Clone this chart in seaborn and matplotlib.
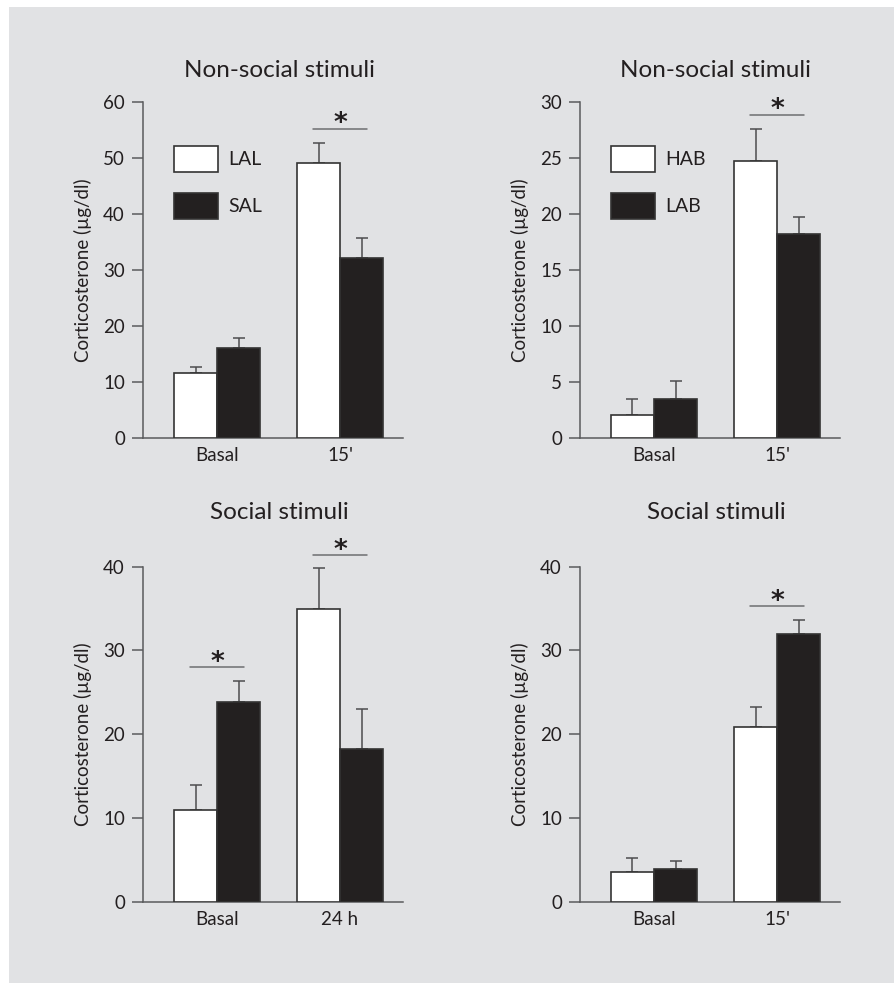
import matplotlib
matplotlib.use("Agg")
import matplotlib.pyplot as plt
import matplotlib.patches as mpatches
import pandas as pd
import seaborn as sns

# data (mean, upward SEM)
times_top = ["Basal", "15'"]
times_bl = ["Basal", "24 h"]
times_br = ["Basal", "15'"]

lal_ns = [11.5, 49.1]
lal_ns_err = [1.1, 3.6]
sal_ns = [16.0, 32.2]
sal_ns_err = [1.8, 3.5]

hab_ns = [2.05, 24.75]
hab_ns_err = [1.45, 2.85]
lab_ns = [3.5, 18.2]
lab_ns_err = [1.6, 1.55]

lal_s = [10.9, 34.9]
lal_s_err = [3.0, 4.9]
sal_s = [23.9, 18.2]
sal_s_err = [2.4, 4.8]

hab_s = [3.6, 20.9]
hab_s_err = [1.6, 2.4]
lab_s = [3.9, 32.0]
lab_s_err = [1.0, 1.6]

panels = [
    dict(title="Non-social stimuli", times=times_top, groups=["LAL", "SAL"],
         vals=[lal_ns, sal_ns], errs=[lal_ns_err, sal_ns_err],
         ymax=60, step=10, sig=[(1, 55.3)], legend=True, pad=18),
    dict(title="Non-social stimuli", times=times_top, groups=["HAB", "LAB"],
         vals=[hab_ns, lab_ns], errs=[hab_ns_err, lab_ns_err],
         ymax=30, step=5, sig=[(1, 28.9)], legend=True, pad=18),
    dict(title="Social stimuli", times=times_bl, groups=["LAL", "SAL"],
         vals=[lal_s, sal_s], errs=[lal_s_err, sal_s_err],
         ymax=40, step=10, sig=[(0, 28.0), (1, 41.4)], legend=False, pad=34),
    dict(title="Social stimuli", times=times_br, groups=["HAB", "LAB"],
         vals=[hab_s, lab_s], errs=[hab_s_err, lab_s_err],
         ymax=40, step=10, sig=[(1, 35.3)], legend=False, pad=34),
]

sns.set_style("white")
plt.rcParams['font.family'] = ['Lato', 'DejaVu Sans']

axis_col = "#5a5b5d"
text_col = "#231f20"
bar_dark = "#231f20"

fig = plt.figure(figsize=(8.94, 9.83), dpi=100, facecolor="white")
# grey panel behind the figure
fig.patches.append(mpatches.Rectangle((9 / 894, 0), 1, 1 - 7 / 983, transform=fig.transFigure,
                                      facecolor="#e1e2e4", edgecolor="none", zorder=-10))

positions = [
    [0.16, 0.5547, 0.2908, 0.3412],
    [0.6488, 0.5547, 0.2908, 0.3412],
    [0.16, 0.0827, 0.2908, 0.3408],
    [0.6488, 0.0827, 0.2908, 0.3408],
]

for p, pos in zip(panels, positions):
    ax = fig.add_axes(pos)
    ax.set_facecolor("none")
    df = pd.DataFrame({
        "time": p["times"] * 2,
        "group": [p["groups"][0]] * 2 + [p["groups"][1]] * 2,
        "value": p["vals"][0] + p["vals"][1],
        "err": p["errs"][0] + p["errs"][1],
    })
    sns.barplot(data=df, x="time", y="value", hue="group", order=p["times"],
                hue_order=p["groups"], palette=["white", bar_dark], width=0.7,
                errorbar=None, edgecolor="#333333", linewidth=1.2, ax=ax,
                legend=p["legend"], zorder=3)

    # upward-only error bars at the bar centres
    for bars, g in zip(ax.containers, p["groups"]):
        sub = df[df["group"] == g].set_index("time").loc[p["times"]]
        xs = [b.get_x() + b.get_width() / 2 for b in bars]
        ax.errorbar(xs, sub["value"], yerr=[[0] * len(xs), sub["err"]], fmt="none",
                    ecolor="#4d4d4f", elinewidth=1.1, capsize=4, capthick=1.1, zorder=2)

    # significance markers
    for xc, yv in p["sig"]:
        ax.plot([xc - 0.22, xc + 0.22], [yv, yv], color="#6d6e70", lw=1.1, clip_on=False)
        ax.annotate("*", (xc, yv), xytext=(0, 3), textcoords="offset points",
                    ha="center", va="center", fontsize=19, fontweight="bold",
                    color=text_col, family=["DejaVu Sans"], annotation_clip=False)

    ax.set_xlim(-0.6016, 1.512)
    ax.set_ylim(0, p["ymax"])
    ax.set_yticks(range(0, p["ymax"] + 1, p["step"]))
    ax.set_xlabel("")
    ax.set_ylabel("Corticosterone (µg/dl)", fontsize=13.5, color=text_col)
    ax.yaxis.set_label_coords(-0.195, 0.5)
    ax.set_title(p["title"], fontsize=17.5, color=text_col, x=0.523, pad=p["pad"])

    sns.despine(ax=ax)
    for s in ["left", "bottom"]:
        ax.spines[s].set_color(axis_col)
        ax.spines[s].set_linewidth(1.1)
    ax.tick_params(axis="y", length=8, width=1.1, color=axis_col, labelsize=13.5,
                   labelcolor=text_col, pad=5, left=True)
    ax.tick_params(axis="x", length=0, labelsize=13.5, labelcolor=text_col, pad=7)

    if p["legend"]:
        ax.legend(loc="upper left", bbox_to_anchor=(0.118, 0.8706), frameon=False,
                  fontsize=14, handlelength=2.3, handleheight=1.72, labelspacing=1.05,
                  handletextpad=0.5, borderpad=0, borderaxespad=0, labelcolor=text_col)

fig.savefig("out.png", dpi=100, facecolor="white")
